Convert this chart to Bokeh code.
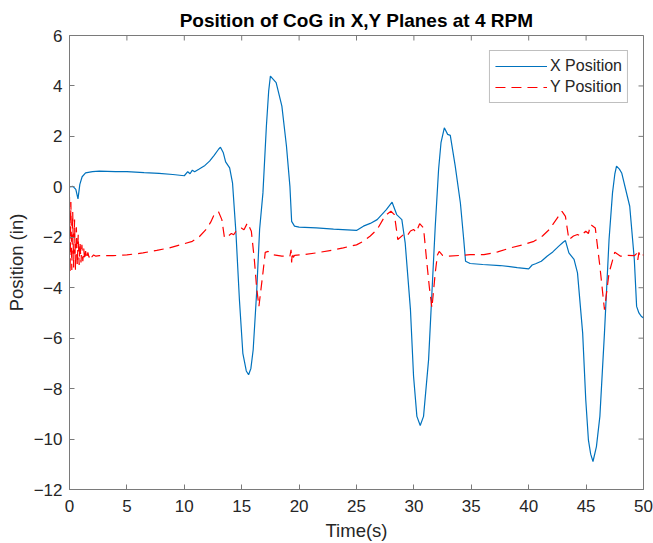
from bokeh.plotting import figure
from bokeh.models import LinearAxis, Range1d, Legend, LegendItem, FixedTicker
from bokeh.embed import file_html
from bokeh.resources import INLINE

# Centre-of-gravity X position (in) against time (s)
x_time = [
    0.0, 0.3, 0.55, 0.74, 0.9, 1.1, 1.4, 2.0, 2.6, 4.0,
    5.0, 6.5, 7.8, 9.0, 10.0, 10.3, 10.5, 10.7, 10.9, 11.3,
    11.8, 12.2, 12.6, 13.0, 13.15, 13.4, 13.6, 13.95, 14.2, 14.5,
    14.8, 15.1, 15.4, 15.6, 15.8, 16.0, 16.3, 16.56, 16.85, 17.15,
    17.35, 17.5, 17.75, 18.0, 18.5, 18.9, 19.2, 19.35, 19.6, 20.0,
    21.5, 23.0, 25.0, 25.6, 26.2, 26.8, 27.6, 28.1, 28.5, 28.95,
    29.24, 29.7, 29.97, 30.26, 30.55, 30.84, 31.28, 31.57, 31.86, 32.15,
    32.36, 32.65, 32.94, 33.17, 33.6, 34.05, 34.34, 34.5, 34.9, 36.0,
    37.5, 39.0, 40.0, 40.3, 40.6, 41.1, 41.6, 42.1, 42.6, 43.0,
    43.2, 43.5, 43.95, 44.25, 44.7, 44.97, 45.2, 45.4, 45.6, 45.9,
    46.2, 46.6, 47.0, 47.3, 47.5, 47.65, 47.9, 48.1, 48.8, 49.2,
    49.4, 49.6, 49.8, 50.0,
]
x_pos = [
    0.0, 0.02, -0.1, -0.48, 0.1, 0.4, 0.55, 0.6, 0.62, 0.6,
    0.6, 0.56, 0.53, 0.49, 0.44, 0.6, 0.52, 0.66, 0.6, 0.71,
    0.85, 1.02, 1.25, 1.5, 1.57, 1.35, 0.99, 0.75, 0.16, -1.83,
    -4.47, -6.6, -7.3, -7.45, -7.2, -6.46, -4.2, -1.69, -0.24, 2.4,
    3.8, 4.39, 4.26, 4.13, 3.2, 1.61, 0.02, -1.37, -1.56, -1.6,
    -1.63, -1.68, -1.73, -1.56, -1.45, -1.3, -0.9, -0.61, -1.1, -1.3,
    -2.22, -4.87, -7.51, -9.1, -9.46, -9.1, -6.85, -4.2, -1.56, 0.69,
    1.75, 2.34, 2.08, 2.04, 0.82, -0.64, -2.09, -2.95, -3.04, -3.08,
    -3.12, -3.2, -3.25, -3.1, -3.05, -2.95, -2.75, -2.58, -2.36, -2.2,
    -2.13, -2.62, -2.88, -3.41, -5.79, -8.44, -10.03, -10.6, -10.89, -10.3,
    -9.1, -5.79, -2.09, -0.24, 0.5, 0.82, 0.7, 0.55, -0.77, -2.88,
    -4.74, -5.0, -5.13, -5.2,
]

# Centre-of-gravity Y position (in) against time (s)
y_time = [
    0.0, 0.05, 0.12, 0.2, 0.28, 0.36, 0.44, 0.52, 0.6, 0.68,
    0.76, 0.84, 0.92, 1.0, 1.08, 1.16, 1.24, 1.32, 1.4, 1.5,
    1.6, 1.7, 1.8, 1.95, 2.1, 2.3, 2.6, 3.8, 5.0, 6.4,
    7.6, 8.7, 9.8, 10.7, 11.3, 11.9, 12.3, 12.6, 12.98, 13.27,
    13.5, 13.8, 14.1, 14.3, 14.5, 14.96, 15.2, 15.5, 15.84, 16.1,
    16.3, 16.5, 16.85, 17.05, 17.3, 17.7, 18.5, 19.2, 19.3, 19.35,
    19.4, 19.5, 19.6, 20.5, 21.5, 23.0, 23.85, 25.0, 25.6, 26.2,
    26.8, 27.5, 28.0, 28.3, 28.6, 29.1, 29.4, 29.7, 29.97, 30.2,
    30.5, 30.84, 31.1, 31.35, 31.57, 31.86, 32.05, 32.2, 32.5, 32.9,
    34.0, 34.9, 36.1, 37.3, 38.4, 39.5, 40.45, 41.2, 41.8, 42.5,
    42.9, 43.2, 43.5, 43.9, 44.25, 44.5, 44.97, 45.2, 45.4, 45.8,
    46.2, 46.6, 47.0, 47.5, 48.0, 48.6, 49.2, 49.4, 49.5, 49.6,
    49.75, 50.0,
]
y_pos = [
    -0.4, -3.4, -0.6, -3.3, -1.0, -3.2, -1.3, -3.3, -1.6, -3.1,
    -1.9, -3.1, -2.2, -3.0, -2.3, -2.95, -2.45, -2.9, -2.55, -2.85,
    -2.6, -2.8, -2.65, -2.78, -2.7, -2.75, -2.73, -2.73, -2.7, -2.62,
    -2.52, -2.42, -2.28, -2.16, -1.98, -1.69, -1.4, -1.1, -0.99, -1.3,
    -2.02, -1.96, -1.85, -1.9, -1.76, -1.63, -1.7, -1.43, -1.76, -2.88,
    -4.0, -4.74, -3.41, -2.6, -2.56, -2.69, -2.75, -2.75, -2.5, -3.0,
    -2.6, -2.8, -2.72, -2.68, -2.62, -2.5, -2.42, -2.3, -2.16, -1.95,
    -1.69, -1.14, -0.97, -1.1, -2.09, -1.89, -1.95, -1.75, -1.69, -1.8,
    -1.46, -1.63, -2.88, -4.0, -4.8, -3.41, -2.7, -2.56, -2.72, -2.75,
    -2.72, -2.69, -2.69, -2.58, -2.42, -2.3, -2.16, -1.95, -1.69, -1.23,
    -0.97, -1.17, -2.09, -1.95, -1.89, -1.95, -1.76, -1.85, -1.5, -1.63,
    -3.15, -4.87, -3.41, -2.59, -2.75, -2.72, -2.73, -2.65, -2.9, -2.6,
    -2.8, -2.69,
]

x_ticks = [0, 5, 10, 15, 20, 25, 30, 35, 40, 45, 50]
y_ticks = [-12, -10, -8, -6, -4, -2, 0, 2, 4, 6]
series_labels = ["X Position", "Y Position"]

assert len(x_time) == len(x_pos)
assert len(y_time) == len(y_pos)

FONT = "Liberation Sans"
AXIS_GREY = "#7a7a7a"
TEXT_DARK = "#262626"

X_MIN, X_MAX = 0, 50
Y_MIN, Y_MAX = -12, 6
FRAME_W, FRAME_H = 574, 454   # plot-area size in pixels
TICK_PX = 5                   # inward tick length

p = figure(
    width=653, height=543,
    output_backend="svg", toolbar_location=None,
    x_range=Range1d(X_MIN, X_MAX), y_range=Range1d(Y_MIN, Y_MAX),
    x_axis_location=None, y_axis_location=None,
    min_border_left=69, min_border_right=10,
    min_border_top=35, min_border_bottom=54,
    title="Position of CoG in X,Y Planes at 4 RPM",
)
p.background_fill_color = "white"
p.border_fill_color = "white"
p.outline_line_color = AXIS_GREY
p.outline_line_width = 1
p.xgrid.visible = False
p.ygrid.visible = False

p.title.align = "center"
p.title.text_font = FONT
p.title.text_font_size = "19px"
p.title.text_font_style = "bold"
p.title.text_color = "black"


def style_axis(ax):
    ax.axis_line_color = AXIS_GREY
    ax.axis_line_width = 1
    ax.major_tick_line_color = AXIS_GREY
    ax.major_tick_in = TICK_PX
    ax.major_tick_out = 0
    ax.minor_tick_line_color = None
    ax.major_label_text_font = FONT
    ax.major_label_text_color = TEXT_DARK
    ax.major_label_text_font_size = "17px"
    ax.axis_label_text_font = FONT
    ax.axis_label_text_font_size = "18.5px"
    ax.axis_label_text_font_style = "normal"
    ax.axis_label_text_color = TEXT_DARK


bottom = LinearAxis(ticker=FixedTicker(ticks=x_ticks), axis_label="Time(s)")
style_axis(bottom)
bottom.major_label_standoff = 10
bottom.axis_label_standoff = 5
p.add_layout(bottom, "below")

left = LinearAxis(ticker=FixedTicker(ticks=y_ticks), axis_label="Position (in)")
style_axis(left)
left.major_label_standoff = 7
left.axis_label_standoff = 4
p.add_layout(left, "left")

# Inward ticks along the top and right edges of the box
dy = TICK_PX * (Y_MAX - Y_MIN) / FRAME_H
dx = TICK_PX * (X_MAX - X_MIN) / FRAME_W
p.segment(x0=x_ticks, y0=[Y_MAX] * len(x_ticks),
          x1=x_ticks, y1=[Y_MAX - dy] * len(x_ticks),
          line_color=AXIS_GREY, line_width=1)
p.segment(x0=[X_MAX] * len(y_ticks), y0=y_ticks,
          x1=[X_MAX - dx] * len(y_ticks), y1=y_ticks,
          line_color=AXIS_GREY, line_width=1)

rx = p.line(x_time, x_pos, line_color="#0072BD", line_width=1.2)
ry = p.line(y_time, y_pos, line_color="#FF0000", line_width=1.2, line_dash="10 6")

legend = Legend(
    items=[
        LegendItem(label=series_labels[0], renderers=[rx]),
        LegendItem(label=series_labels[1], renderers=[ry]),
    ],
    location="top_right",
    margin=15,
    padding=5,
    spacing=1,
    glyph_width=52,
    glyph_height=20,
    label_height=20,
    label_standoff=3,
    label_text_font=FONT,
    label_text_font_size="16px",
    label_text_color=TEXT_DARK,
    border_line_color="#808080",
    border_line_width=1,
    background_fill_color="white",
    background_fill_alpha=1.0,
)
p.add_layout(legend)

open("out.html", "w").write(file_html(p, INLINE))
